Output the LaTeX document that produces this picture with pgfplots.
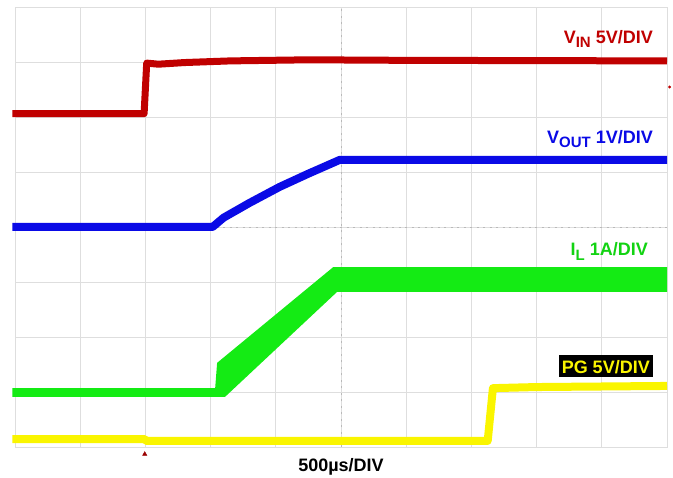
\documentclass[border=0pt]{standalone}
\usepackage{fontspec}
\setmainfont{Liberation Sans}
\usepackage{pgfplots}
\pgfplotsset{compat=1.18}

\definecolor{vin}{RGB}{192,0,0}
\definecolor{vout}{RGB}{10,10,230}
\definecolor{il}{RGB}{20,235,20}
\definecolor{pg}{RGB}{250,245,0}
\definecolor{gridc}{RGB}{222,222,222}

\newcommand{\lbl}{\fontsize{18}{20}\selectfont\bfseries}
\newcommand{\sub}[1]{\raisebox{-4.5pt}{\fontsize{15}{15}\selectfont #1}}

\begin{document}
\begin{tikzpicture}
\useasboundingbox (-15pt,-31pt) rectangle (658pt,447pt);
\begin{axis}[
    at={(0,0)}, anchor=south west,
    scale only axis, width=652pt, height=440pt,
    xmin=0, xmax=10, ymin=0, ymax=8,
    xtick={0,...,10}, ytick={0,...,8},
    xticklabels={}, yticklabels={},
    major tick length=0pt,
    grid=major,
    grid style={draw=gridc, line width=0.7pt},
    axis line style={draw=gridc, line width=0.9pt},
    clip=false,
]

% centre lines
\draw[gray!55, line width=0.7pt, dash pattern=on 2pt off 4.5pt] (axis cs:5,0) -- (axis cs:5,8);
\draw[gray!55, line width=0.7pt, dash pattern=on 2pt off 4.5pt] (axis cs:0,4) -- (axis cs:10,4);

% VIN
\addplot[vin, line width=7pt, line join=round] coordinates {
    (-0.04,6.06) (1.98,6.06) (2.02,6.98) (2.2,6.96) (2.6,6.99)
    (3.3,7.02) (4.5,7.04) (6,7.03) (10,7.02)
};

% VOUT
\addplot[vout, line width=8pt, line join=round] coordinates {
    (-0.04,4.0) (3.03,4.0) (3.2,4.17) (3.6,4.44) (4.06,4.73)
    (4.5,4.97) (4.98,5.22) (10,5.22)
};

% IL (band)
\addplot[fill=il, draw=none] coordinates {
    (-0.04,1.07) (3.07,1.07) (3.10,1.53) (4.88,3.27) (10,3.27)
    (10,2.82) (4.94,2.82) (3.22,0.91) (-0.04,0.91)
} -- cycle;

% PG
\addplot[pg, line width=8pt, line join=round] coordinates {
    (-0.04,0.145) (1.99,0.145) (2.01,0.11) (7.25,0.11) (7.33,1.07)
    (8,1.09) (10,1.11)
};

% trigger / offset markers
\addplot[only marks, mark=triangle*, mark size=2.5pt, color=vin!80!black] coordinates {(1.99,-0.13)};
\addplot[only marks, mark=*, mark size=1.3pt, color=vin] coordinates {(10.04,6.545)};

\node[anchor=base east, inner sep=0pt, text=vin, font=\lbl]
    at (axis cs:9.785,7.345) {V\sub{IN} 5V/DIV};
\node[anchor=base east, inner sep=0pt, text=vout, font=\lbl]
    at (axis cs:9.785,5.527) {V\sub{OUT} 1V/DIV};
\node[anchor=base east, inner sep=0pt, text=il!90!black, font=\lbl]
    at (axis cs:9.71,3.473) {I\sub{L} 1A/DIV};
\node[anchor=base east, fill=black, text=pg, font=\lbl,
      inner xsep=3pt, inner ysep=0pt, text height=18pt, text depth=4pt]
    at (axis cs:9.785,1.345) {PG 5V/DIV};
\node[anchor=base, inner sep=0pt, font=\lbl]
    at (axis cs:5.0,-0.4545) {500µs/DIV};
\end{axis}
\end{tikzpicture}
\end{document}
